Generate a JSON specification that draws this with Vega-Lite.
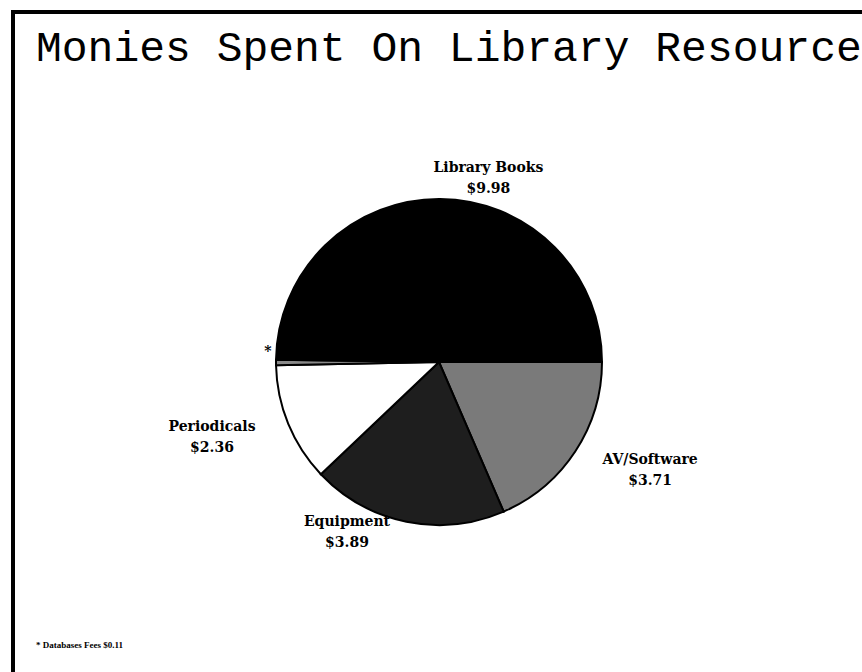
{
  "$schema": "https://vega.github.io/schema/vega-lite/v6.json",
  "width": 852,
  "height": 700,
  "autosize": {"type": "none"},
  "padding": {"left": 13, "top": 12, "right": 0, "bottom": 0},
  "background": "white",
  "view": {"stroke": "black", "strokeWidth": 4, "fill": "white"},
  "title": {
    "text": "Monies Spent On Library Resource",
    "subtitle": "* Databases Fees $0.11",
    "anchor": "start",
    "frame": "group",
    "orient": "top",
    "offset": -638,
    "dx": 23,
    "font": "Liberation Mono",
    "fontSize": 43,
    "fontWeight": "normal",
    "color": "black",
    "subtitleFont": "Liberation Serif",
    "subtitleFontSize": 9,
    "subtitleFontWeight": "bold",
    "subtitleColor": "black",
    "subtitlePadding": 571
  },
  "data": {
    "values": [
      {"category": "AV/Software", "amount": 3.71, "rank": 1, "label": "AV/Software\n$3.71"},
      {"category": "Equipment", "amount": 3.89, "rank": 2, "label": "Equipment\n$3.89"},
      {"category": "Periodicals", "amount": 2.36, "rank": 3, "label": "Periodicals\n$2.36"},
      {"category": "Databases", "amount": 0.11, "rank": 4, "label": "*"},
      {"category": "Library Books", "amount": 9.98, "rank": 5, "label": "Library Books\n$9.98"}
    ]
  },
  "encoding": {
    "theta": {"field": "amount", "type": "quantitative", "stack": true, "scale": {"range": [1.5708, 7.854]}},
    "order": {"field": "rank", "type": "quantitative"}
  },
  "layer": [
    {
      "mark": {"type": "arc", "outerRadius": 163, "stroke": "black", "strokeWidth": 2},
      "encoding": {
        "color": {
          "field": "category",
          "type": "nominal",
          "scale": {
            "domain": ["AV/Software", "Equipment", "Periodicals", "Databases", "Library Books"],
            "range": ["#7a7a7a", "#1e1e1e", "#ffffff", "#8a8a8a", "#000000"]
          },
          "legend": null
        }
      }
    },
    {
      "mark": {
        "type": "text",
        "radius": 200,
        "font": "DejaVu Serif",
        "fontWeight": "bold",
        "fontSize": 14,
        "lineBreak": "\n",
        "lineHeight": 21,
        "align": "center",
        "baseline": "middle",
        "color": "black",
        "dx": {"expr": "datum.category == 'Library Books' ? 48 : datum.category == 'AV/Software' ? 44 : datum.category == 'Equipment' ? -52 : datum.category == 'Periodicals' ? -42 : 29"},
        "dy": {"expr": "datum.category == 'Library Books' ? 6 : datum.category == 'AV/Software' ? -12 : datum.category == 'Equipment' ? -36 : datum.category == 'Periodicals' ? -11 : -11"}
      },
      "encoding": {"text": {"field": "label", "type": "nominal"}}
    }
  ]
}
